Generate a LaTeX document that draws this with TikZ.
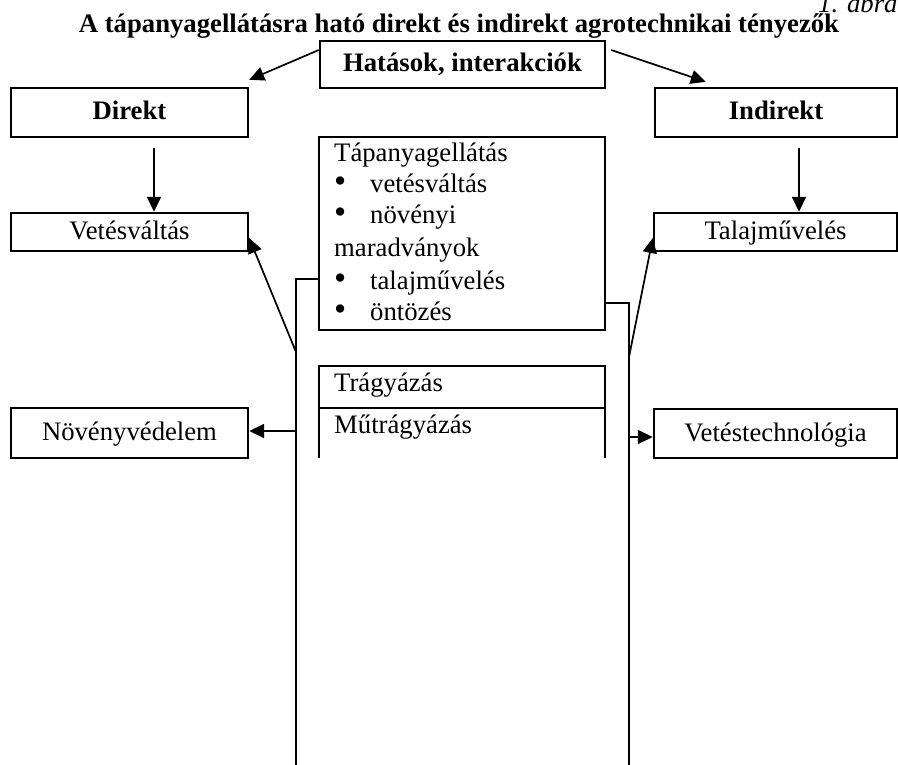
\documentclass[tikz,border=0pt]{standalone}
\usepackage{fontspec}
\setmainfont{Liberation Serif}
\usetikzlibrary{arrows.meta}

\begin{document}
\begin{tikzpicture}[x=1pt,y=-1pt,
    every node/.style={inner sep=0pt,font=\fontsize{26.7}{30}\selectfont},
    bold/.style={font=\fontsize{26.7}{30}\selectfont\bfseries},
    box/.style={draw=black,line width=2.4pt,text height=17pt,text depth=2pt},
    link/.style={black,line width=1.7pt},
    arr/.style={link,-{Triangle[length=15pt,width=14pt]}}]
    \useasboundingbox (0,0) rectangle (898,765);
    % titles
    \node[font=\fontsize{26.7}{30}\selectfont\itshape,anchor=base west] (abra) at (818,13) {1. ábra};
    \node[font=\fontsize{26.7}{30}\selectfont\bfseries,anchor=base] (cim) at (459,33) {A tápanyagellátásra ható direkt és indirekt agrotechnikai tényezők};
    % boxes
    \node[box,bold,minimum width=285pt,minimum height=47pt] (hatas) at (462.5,64.5) {Hatások, interakciók};
    \node[box,bold,minimum width=237pt,minimum height=49pt] (direkt) at (129.5,112.5) {Direkt};
    \node[box,bold,minimum width=242pt,minimum height=49pt] (indirekt) at (776,112.5) {Indirekt};
    \node[box,minimum width=237pt,minimum height=38pt] (vetesv) at (129.5,232) {Vetésváltás};
    \node[box,minimum width=243pt,minimum height=38pt] (talaj) at (775.5,232) {Talajművelés};
    \node[box,minimum width=237pt,minimum height=50pt] (novved) at (129.5,433) {Növényvédelem};
    \node[box,minimum width=243pt,minimum height=49pt] (vettech) at (775.5,433.5) {Vetéstechnológia};
    \node[draw=black,line width=2.4pt,minimum width=286pt,minimum height=193pt] (tap) at (462,233.5) {};
    % text of the middle box
    \node[anchor=base west] (tap0) at (334,162) {Tápanyagellátás};
    \node[anchor=base west] (tap1) at (334,193) {\makebox[36pt][l]{\smash{\scalebox{1.3}{\textbullet}}}vetésváltás};
    \node[anchor=base west] (tap2) at (334,224) {\makebox[36pt][l]{\smash{\scalebox{1.3}{\textbullet}}}növényi};
    \node[anchor=base west] (tap3) at (334,256) {maradványok};
    \node[anchor=base west] (tap4) at (334,289) {\makebox[36pt][l]{\smash{\scalebox{1.3}{\textbullet}}}talajművelés};
    \node[anchor=base west] (tap5) at (334,320) {\makebox[36pt][l]{\smash{\scalebox{1.3}{\textbullet}}}öntözés};
    % open box below
    \draw[black,line width=2.4pt] (319,458) -- (319,366) -- (605,366) -- (605,458)
        (319,408) -- (605,408);
    \node[anchor=base west] (trag) at (334,391) {Trágyázás};
    \node[anchor=base west] (mutrag) at (334,433) {Műtrágyázás};
    % brackets
    \coordinate (lb1) at (296,279);
    \coordinate (lb2) at (296,352);
    \coordinate (lb3) at (296,431);
    \coordinate (lb4) at (296,765);
    \coordinate (rb1) at (629,303);
    \coordinate (rb2) at (629,357);
    \coordinate (rb3) at (629,437);
    \coordinate (rb4) at (629,765);
    \draw[link] (tap.west |- lb1) -- (lb1) -- (lb4);
    \draw[link] (tap.east |- rb1) -- (rb1) -- (rb4);
    % arrows
    \draw[arr] ([yshift=14.5pt]hatas.west) -- ([yshift=7pt]direkt.north east);
    \draw[arr] ([xshift=5pt,yshift=14.5pt]hatas.east) -- ([xshift=52pt,yshift=5pt]indirekt.north west);
    \draw[arr] ([xshift=24.5pt,yshift=-10pt]direkt.south) -- ([xshift=24.5pt]vetesv.north);
    \draw[arr] ([xshift=23pt,yshift=-10pt]indirekt.south) -- ([xshift=23.5pt]talaj.north);
    \draw[arr] (lb2) -- ([yshift=-6pt]vetesv.east);
    \draw[arr] (lb3) -- (novved.east |- lb3);
    \draw[arr] (rb2) -- ([yshift=-6pt]talaj.west);
    \draw[arr] (rb3) -- (vettech.west |- rb3);
\end{tikzpicture}
\end{document}
